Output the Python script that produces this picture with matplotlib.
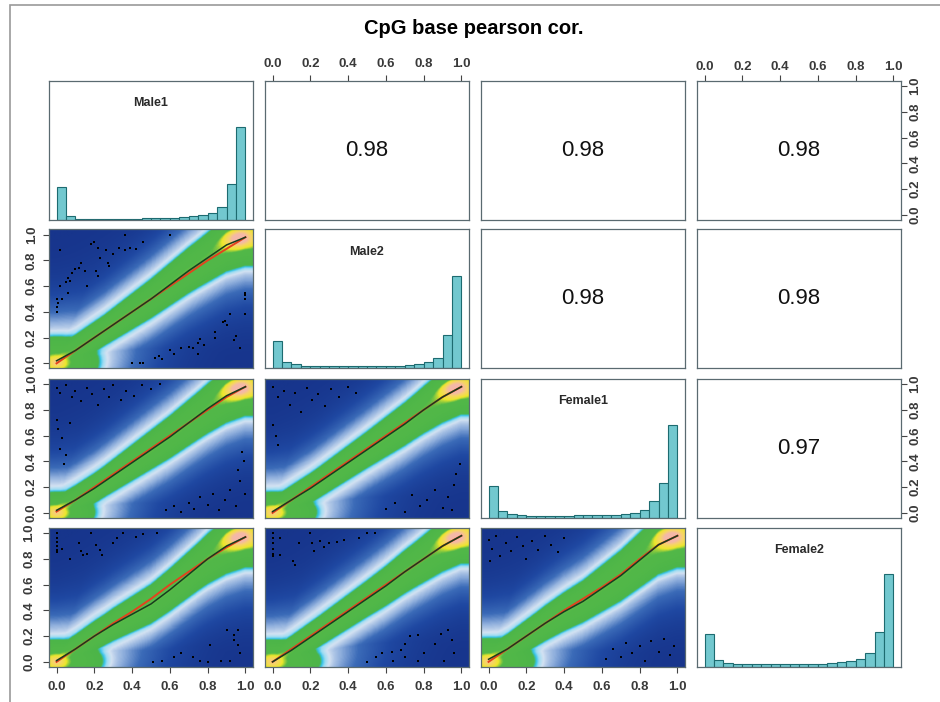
import numpy as np
import matplotlib.pyplot as plt
from matplotlib.colors import LinearSegmentedColormap
from matplotlib.patches import Rectangle

plt.rcParams['font.family'] = ['Liberation Sans', 'DejaVu Sans']

TITLE = "CpG base pearson cor."
samples = ["Male1", "Male2", "Female1", "Female2"]
ticks = [0.0, 0.2, 0.4, 0.6, 0.8, 1.0]
tick_labels = ["0.0", "0.2", "0.4", "0.6", "0.8", "1.0"]

# histogram heights (20 bins of 0.05), relative to the tallest bar
hist_male1 = [0.36, 0.044, 0.015, 0.015, 0.015, 0.015, 0.015, 0.015, 0.015, 0.026,
              0.026, 0.026, 0.026, 0.033, 0.04, 0.052, 0.074, 0.14, 0.39, 1.0]
hist_male2 = [0.30, 0.065, 0.045, 0.03, 0.025, 0.025, 0.025, 0.025, 0.025, 0.025,
              0.025, 0.025, 0.025, 0.03, 0.035, 0.045, 0.065, 0.11, 0.36, 1.0]
hist_female1 = [0.35, 0.08, 0.045, 0.03, 0.025, 0.025, 0.025, 0.025, 0.025, 0.028,
                0.028, 0.03, 0.03, 0.035, 0.04, 0.05, 0.09, 0.18, 0.38, 1.0]
hist_female2 = [0.36, 0.073, 0.044, 0.03, 0.03, 0.03, 0.03, 0.03, 0.03, 0.037,
                0.037, 0.037, 0.037, 0.044, 0.05, 0.06, 0.09, 0.15, 0.38, 1.0]
hists = [hist_male1, hist_male2, hist_female1, hist_female2]

# upper panels: pearson correlation
cor_pairs = [(0, 1), (0, 2), (0, 3), (1, 2), (1, 3), (2, 3)]
cor_values = ["0.98", "0.98", "0.98", "0.98", "0.98", "0.97"]

# lower panels: fitted curves (black) and red fit
fit_x = [0.0, 0.1, 0.2, 0.3, 0.4, 0.5, 0.6, 0.7, 0.8, 0.9, 1.0]
fit_21 = [0.02, 0.1, 0.2, 0.3, 0.4, 0.5, 0.61, 0.72, 0.82, 0.92, 0.98]
red_21 = [0.0, 0.1, 0.2, 0.3, 0.4, 0.5, 0.6, 0.7, 0.8, 0.89, 0.98]
fit_31 = [0.02, 0.1, 0.19, 0.29, 0.39, 0.49, 0.59, 0.7, 0.81, 0.91, 0.98]
red_31 = [0.01, 0.1, 0.2, 0.3, 0.4, 0.5, 0.6, 0.7, 0.8, 0.9, 0.98]
fit_32 = [0.01, 0.1, 0.19, 0.29, 0.39, 0.49, 0.59, 0.69, 0.8, 0.9, 0.98]
red_32 = [0.0, 0.1, 0.2, 0.3, 0.4, 0.5, 0.6, 0.7, 0.8, 0.9, 0.98]
fit_41 = [0.01, 0.1, 0.2, 0.29, 0.37, 0.45, 0.56, 0.68, 0.8, 0.9, 0.97]
red_41 = [0.0, 0.1, 0.2, 0.3, 0.39, 0.49, 0.6, 0.7, 0.8, 0.89, 0.97]
fit_42 = [0.0, 0.09, 0.19, 0.29, 0.39, 0.49, 0.59, 0.7, 0.8, 0.9, 0.98]
red_42 = [0.0, 0.1, 0.2, 0.3, 0.4, 0.5, 0.6, 0.7, 0.8, 0.9, 0.98]
fit_43 = [0.02, 0.1, 0.2, 0.3, 0.39, 0.47, 0.57, 0.67, 0.79, 0.91, 0.98]
red_43 = [0.0, 0.1, 0.2, 0.3, 0.4, 0.49, 0.58, 0.68, 0.8, 0.91, 0.98]

# half width of the dense (green) band at width_x, and the low corner blob
width_x = [0.0, 0.25, 0.5, 0.75, 1.0]
band_21 = [0.1, 0.1, 0.13, 0.16, 0.2]
band_31 = [0.09, 0.1, 0.13, 0.16, 0.2]
band_32 = [0.09, 0.1, 0.12, 0.15, 0.19]
band_41 = [0.09, 0.1, 0.13, 0.16, 0.21]
band_42 = [0.09, 0.1, 0.12, 0.15, 0.19]
band_43 = [0.09, 0.11, 0.14, 0.18, 0.22]
blob_21 = (0.2, 0.18)
blob_31 = (0.18, 0.14)
blob_32 = (0.21, 0.14)
blob_41 = (0.22, 0.15)
blob_42 = (0.23, 0.15)
blob_43 = (0.22, 0.16)

# sparse outlier points
pts_21 = [(0.0, 0.40), (0.0, 0.44), (0.01, 0.47), (0.0, 0.5), (0.03, 0.5), (0.02, 0.6), (0.06, 0.55),
          (0.05, 0.63), (0.07, 0.64), (0.06, 0.66), (0.08, 0.7), (0.1, 0.73), (0.12, 0.74), (0.13, 0.78),
          (0.16, 0.6), (0.15, 0.72), (0.18, 0.93), (0.2, 0.94), (0.22, 0.9), (0.21, 0.72), (0.22, 0.68),
          (0.23, 0.82), (0.26, 0.88), (0.27, 0.78), (0.28, 0.76), (0.3, 0.85), (0.33, 0.9), (0.36, 0.88),
          (0.39, 0.9), (0.42, 0.89), (0.46, 0.94), (0.36, 1.0), (0.6, 1.0), (0.02, 0.88),
          (0.4, 0.0), (0.44, 0.0), (0.46, 0.0), (0.52, 0.04), (0.54, 0.06), (0.56, 0.03), (0.6, 0.1),
          (0.62, 0.07), (0.66, 0.12), (0.7, 0.13), (0.72, 0.12), (0.75, 0.16), (0.76, 0.19), (0.75, 0.07),
          (0.78, 0.14), (0.84, 0.2), (0.84, 0.24), (0.88, 0.32), (0.89, 0.33), (0.9, 0.3), (0.92, 0.38),
          (0.95, 0.21), (0.94, 0.18), (0.97, 0.12), (1.0, 0.5), (1.0, 0.53), (1.0, 0.55), (1.0, 0.38)]
pts_31 = [(0.0, 0.97), (0.02, 0.93), (0.05, 0.99), (0.08, 0.9), (0.1, 0.95), (0.13, 0.87), (0.16, 0.97),
          (0.19, 0.92), (0.22, 0.84), (0.25, 0.96), (0.28, 0.9), (0.3, 0.99), (0.34, 0.88), (0.37, 0.95),
          (0.41, 0.91), (0.45, 0.99), (0.5, 0.96), (0.55, 1.0), (0.0, 0.72), (0.01, 0.65), (0.03, 0.58),
          (0.02, 0.5), (0.05, 0.45), (0.04, 0.38), (0.07, 0.7),
          (0.58, 0.02), (0.62, 0.05), (0.66, 0.01), (0.7, 0.08), (0.73, 0.03), (0.76, 0.12), (0.8, 0.06),
          (0.83, 0.15), (0.86, 0.02), (0.89, 0.1), (0.92, 0.18), (0.95, 0.05), (0.97, 0.25), (0.96, 0.33),
          (0.99, 0.4), (0.98, 0.47), (1.0, 0.15)]
pts_32 = [(0.0, 0.98), (0.03, 0.9), (0.06, 0.95), (0.09, 0.84), (0.12, 0.93), (0.15, 0.78), (0.18, 0.97),
          (0.21, 0.88), (0.24, 0.92), (0.28, 0.83), (0.31, 0.96), (0.35, 0.9), (0.4, 0.98), (0.44, 0.93),
          (0.0, 0.68), (0.02, 0.6), (0.03, 0.53),
          (0.6, 0.03), (0.65, 0.08), (0.7, 0.01), (0.74, 0.14), (0.78, 0.05), (0.82, 0.1), (0.86, 0.18),
          (0.9, 0.04), (0.93, 0.12), (0.96, 0.22), (0.97, 0.3), (0.99, 0.38), (0.95, 0.02)]
pts_41 = [(0.0, 1.0), (0.0, 0.96), (0.0, 0.93), (0.0, 0.9), (0.0, 0.87), (0.0, 0.85), (0.03, 0.88),
          (0.07, 0.8), (0.12, 0.92), (0.13, 0.86), (0.14, 0.83), (0.16, 0.84), (0.18, 1.0), (0.21, 0.91),
          (0.23, 0.87), (0.24, 0.83), (0.3, 0.92), (0.32, 0.96), (0.35, 1.0), (0.42, 0.97), (0.46, 0.99),
          (0.53, 1.0),
          (0.51, 0.0), (0.56, 0.01), (0.62, 0.04), (0.66, 0.07), (0.72, 0.04), (0.76, 0.01), (0.81, 0.13),
          (0.9, 0.25), (0.94, 0.21), (0.96, 0.13), (0.97, 0.07), (0.92, 0.01), (0.87, 0.01), (0.8, 0.0),
          (0.94, 0.17), (0.96, 0.25)]
pts_42 = [(0.0, 1.0), (0.0, 0.96), (0.0, 0.92), (0.0, 0.88), (0.0, 0.84), (0.0, 0.82), (0.04, 0.96),
          (0.04, 0.83), (0.11, 0.78), (0.12, 0.75), (0.14, 0.92), (0.2, 1.0), (0.21, 0.92), (0.22, 0.86),
          (0.25, 0.94), (0.27, 0.89), (0.3, 0.92), (0.34, 0.93), (0.38, 0.95), (0.46, 0.96), (0.5, 1.0),
          (0.54, 1.0),
          (0.5, 0.0), (0.55, 0.04), (0.58, 0.07), (0.63, 0.08), (0.68, 0.09), (0.7, 0.14), (0.7, 0.04),
          (0.73, 0.2), (0.77, 0.21), (0.8, 0.07), (0.86, 0.14), (0.89, 0.22), (0.93, 0.25), (0.95, 0.17),
          (0.96, 0.07), (0.91, 0.01), (0.77, 0.01), (0.64, 0.01)]
pts_43 = [(0.0, 0.95), (0.02, 0.88), (0.04, 0.98), (0.06, 0.82), (0.09, 0.92), (0.12, 0.86), (0.15, 0.97),
          (0.18, 0.9), (0.2, 0.8), (0.23, 0.94), (0.26, 0.87), (0.3, 0.98), (0.33, 0.91), (0.37, 0.85),
          (0.4, 0.96), (0.01, 0.78),
          (0.62, 0.02), (0.66, 0.1), (0.7, 0.04), (0.73, 0.15), (0.76, 0.07), (0.8, 0.12), (0.83, 0.01),
          (0.86, 0.16), (0.9, 0.08), (0.93, 0.18), (0.96, 0.05), (0.98, 0.12)]

lower = [((1, 0), fit_21, red_21, band_21, blob_21, pts_21),
         ((2, 0), fit_31, red_31, band_31, blob_31, pts_31),
         ((2, 1), fit_32, red_32, band_32, blob_32, pts_32),
         ((3, 0), fit_41, red_41, band_41, blob_41, pts_41),
         ((3, 1), fit_42, red_42, band_42, blob_42, pts_42),
         ((3, 2), fit_43, red_43, band_43, blob_43, pts_43)]

dens_cmap = LinearSegmentedColormap.from_list("dens", [
    (0.00, "#17358c"), (0.08, "#1f48a2"), (0.16, "#3b6bb8"), (0.22, "#8eaedc"),
    (0.28, "#d4e2f2"), (0.33, "#9adcf2"), (0.37, "#34c2ea"), (0.41, "#4cb548"),
    (0.88, "#52b848"), (0.92, "#ece72a"), (0.97, "#f7d468"), (1.00, "#f4b8a8")])


def density(fit, band, blob, gx, gy):
    c = np.interp(gx, fit_x, fit)
    w = np.interp(gx, width_x, band)
    d = np.abs(gy - c)
    bx, by = blob
    core = np.maximum(np.exp(-(d / w) ** 4),
                      np.exp(-((gx / bx) ** 2 + (gy / by) ** 2) ** 2))
    glow = np.maximum(np.exp(-0.5 * (d / (w + 0.1)) ** 2),
                      np.exp(-0.5 * ((gx / (bx + 0.1)) ** 2 + (gy / (by + 0.1)) ** 2)))
    wide = np.exp(-0.5 * (d / 0.35) ** 2)
    v = 0.5 * core + 0.28 * glow + 0.1 * wide
    v = v + 0.14 * np.exp(-0.5 * ((gx - 0.97) ** 2 + (gy - 0.97) ** 2) / 0.065 ** 2)
    v = v + 0.1 * np.exp(-0.5 * (gx ** 2 + gy ** 2) / 0.04 ** 2)
    return np.clip(v, 0, 1)


W, H = 940, 702
fig = plt.figure(figsize=(W / 100, H / 100), dpi=100)
fig.patch.set_facecolor("white")
fig.add_artist(Rectangle((10 / W, -0.02), 1.0, 1 - 5 / H + 0.02, transform=fig.transFigure,
                         fill=False, edgecolor="#9a9a9a", lw=1.2))
fig.text(474 / W, 1 - 28 / H, TITLE, ha="center", va="center", fontsize=14.5, fontweight="bold")

col_left = [49, 265, 481, 697]
row_top = [81, 229.5, 379, 528]
pw, ph = 204, 139
lim = (-0.04, 1.04)

axes = [[None] * 4 for _ in range(4)]
for r in range(4):
    for c in range(4):
        ax = fig.add_axes([col_left[c] / W, 1 - (row_top[r] + ph) / H, pw / W, ph / H])
        ax.set_xlim(*lim)
        ax.set_ylim(*lim)
        ax.set_xticks(ticks)
        ax.set_xticklabels(tick_labels, fontsize=9.5, fontweight="bold")
        ax.set_yticks(ticks)
        ax.set_yticklabels(tick_labels, rotation=90, va="center", fontsize=9.5, fontweight="bold")
        ax.tick_params(bottom=False, left=False, top=False, right=False,
                       labelbottom=False, labelleft=False, labeltop=False, labelright=False,
                       direction="out", length=4, width=0.8, color="#444444",
                       labelcolor="#3a3a3a", pad=4)
        for s in ax.spines.values():
            s.set_color("#5a6a70")
            s.set_linewidth(0.9)
        axes[r][c] = ax

# outer axes like R pairs()
for r in (1, 2, 3):
    axes[r][0].tick_params(left=True, labelleft=True)
for c in (0, 1, 2):
    axes[3][c].tick_params(bottom=True, labelbottom=True, pad=6)
for c in (1, 3):
    axes[0][c].tick_params(top=True, labeltop=True)
for r in (0, 2):
    axes[r][3].tick_params(right=True, labelright=True, pad=2)

# diagonal histograms
edges = np.linspace(0, 1, 21)
for i in range(4):
    ax = axes[i][i]
    ax.set_ylim(0, 1.5)
    ax.bar(edges[:-1], hists[i], width=0.05, align="edge", color="#72c8cf",
           edgecolor="#1d6b70", linewidth=0.8)
    ax.text(0.5, 0.84, samples[i], transform=ax.transAxes, ha="center", va="center",
            fontsize=9, fontweight="bold", color="#2a2a2a")

# upper correlations
for (i, j), val in zip(cor_pairs, cor_values):
    axes[i][j].text(0.5, 0.5, val, transform=axes[i][j].transAxes, ha="center",
                    va="center", fontsize=16, color="#111111")

# lower smooth scatter panels
g = np.linspace(lim[0], lim[1], 240)
gx, gy = np.meshgrid(g, g)
for (r, c), fit, red, band, blob, pts in lower:
    ax = axes[r][c]
    ax.imshow(density(fit, band, blob, gx, gy), origin="lower", extent=(*lim, *lim),
              cmap=dens_cmap, vmin=0, vmax=1, aspect="auto", interpolation="bilinear")
    px, py = zip(*pts)
    ax.scatter(px, py, s=1.3, c="black", marker="s", linewidths=0)
    ax.plot(fit_x, red, color="#e4421e", lw=1.4)
    ax.plot(fit_x, fit, color="#173d1f", lw=1.1)
    ax.set_xlim(*lim)
    ax.set_ylim(*lim)

fig.savefig("out.png", dpi=100)
